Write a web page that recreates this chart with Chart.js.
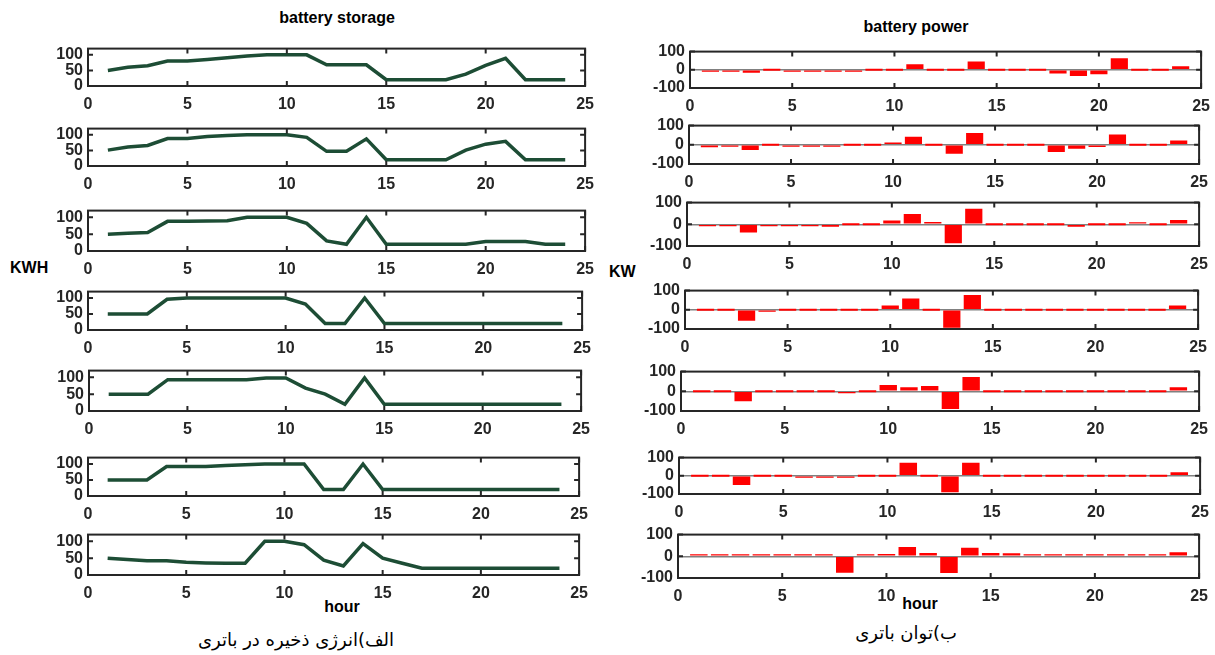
<!DOCTYPE html>
<html>
<head>
<meta charset="utf-8">
<script src="https://cdn.jsdelivr.net/npm/chart.js@4.4.1/dist/chart.umd.min.js"></script>
<style>
  body { margin: 0; background: #fff; width: 1215px; height: 655px; position: relative; overflow: hidden; font-family: "Liberation Sans", Arial, sans-serif; }
  canvas { position: absolute; }
  .t { position: absolute; font-weight: bold; font-size: 16px; color: #000; white-space: nowrap; }
  .c { transform: translateX(-50%); }
  .fa { position: absolute; font-family: "DejaVu Sans", sans-serif; font-size: 18px; color: #000; white-space: nowrap; direction: rtl; transform: translateX(-50%); }
</style>
</head>
<body>
<div class="t c" style="left:337px;top:9px">battery storage</div>
<div class="t c" style="left:916px;top:18px">battery power</div>
<div class="t" style="left:10px;top:259px">KWH</div>
<div class="t" style="left:609px;top:263px">KW</div>
<div class="t c" style="left:342px;top:598px">hour</div>
<div class="t c" style="left:920px;top:595px">hour</div>
<div class="fa" style="left:296px;top:629px">الف)انرژی ذخیره در باتری</div>
<div class="fa" style="left:906px;top:622px">ب)توان باتری</div>

<script>
// hours of the day
var hours = [1, 2, 3, 4, 5, 6, 7, 8, 9, 10, 11, 12, 13, 14, 15, 16, 17, 18, 19, 20, 21, 22, 23, 24];

// battery storage (KWH), one array per scenario
var storage1 = [50, 60, 65, 80, 80, 85, 91, 96, 100, 100, 100, 68, 68, 68, 20, 20, 20, 20, 38, 66, 89, 20, 20, 20];
var storage2 = [51, 61, 66, 88, 88, 95, 98, 100, 100, 100, 92, 47, 47, 87, 20, 20, 20, 20, 51, 70, 79, 20, 20, 20];
var storage3 = [50, 53, 55, 88, 88, 89, 90, 100, 100, 100, 82, 30, 20, 100, 20, 20, 20, 20, 20, 28, 28, 28, 20, 20];
var storage4 = [50, 50, 50, 96, 100, 100, 100, 100, 100, 100, 81, 20, 20, 100, 20, 20, 20, 20, 20, 20, 20, 20, 20, 20];
var storage5 = [50, 50, 50, 93, 93, 93, 93, 93, 98, 98, 68, 50, 20, 98, 20, 20, 20, 20, 20, 20, 20, 20, 20, 20];
var storage6 = [50, 50, 50, 92, 92, 92, 95, 98, 100, 100, 100, 20, 20, 100, 20, 20, 20, 20, 20, 20, 20, 20, 20, 20];
var storage7 = [50, 46, 42, 42, 38, 36, 35, 35, 100, 100, 90, 44, 27, 93, 50, 35, 20, 20, 20, 20, 20, 20, 20, 20];

// battery power (KW), one array per scenario
var power1 = [-10, -10, -16, 0, -6, -6, -8, -5, 0, 0, 30, 0, 0, 45, 0, 0, 0, -20, -34, -24, 64, 0, 0, 20];
var power2 = [-13, -8, -27, 0, -9, -6, -7, 0, 0, 12, 42, 0, -46, 62, 0, 0, 0, -37, -21, -12, 53, 0, 0, 23];
var power3 = [-5, -5, -38, -2, -2, -2, -11, 0, 0, 17, 48, 11, -87, 72, 0, 0, 0, 0, -11, 0, 0, 8, 0, 20];
var power4 = [0, 0, -57, -6, 0, 0, 0, 0, 0, 22, 59, 0, -93, 77, 0, 0, 0, 0, 0, 0, 0, 0, 0, 22];
var power5 = [0, 0, -50, 0, 0, 0, 0, -8, 0, 32, 20, 27, -90, 72, 0, 0, 0, 0, 0, 0, 0, 0, 0, 21];
var power6 = [0, 0, -50, 0, 0, -6, -8, -8, 0, 0, 72, 0, -90, 72, 0, 0, 0, 0, 0, 0, 0, 0, 0, 19];
var power7 = [5, 5, 2, 4, 3, 3, 1, -76, 1, 11, 43, 15, -77, 39, 15, 14, 1, 1, 1, 1, 1, 1, 1, 19];

var storageRuns = [storage1, storage2, storage3, storage4, storage5, storage6, storage7];
var powerRuns = [power1, power2, power3, power4, power5, power6, power7];

// plot boxes [left, top, right, bottom] in page pixels
var leftBoxes = [
  [88, 44, 589, 86], [88, 124, 589, 166], [88, 206, 589, 251], [88, 287, 586, 330],
  [89, 366, 585, 411], [88, 453, 583, 496], [88, 530, 583, 575]
];
var rightBoxes = [
  [690, 47, 1205, 88], [689, 121, 1203, 164], [687, 198, 1203, 246], [685, 286, 1202, 329],
  [681, 367, 1203, 411], [679, 453, 1204, 494], [678, 530, 1203, 578]
];

var AXW = 70, AXH = 34, PADT = 10, PADR = 14;
var tickFont = { family: 'Liberation Sans', size: 16, weight: 'bold' };
var tickColor = '#262626';

// box with inward ticks, like the original figure
var framePlugin = {
  id: 'frame',
  afterDatasetsDraw: function (chart) {
    var a = chart.chartArea, c = chart.ctx, x = chart.scales.x, y = chart.scales.y;
    c.save();
    c.strokeStyle = tickColor;
    c.lineWidth = 2;
    c.strokeRect(a.left, a.top, a.right - a.left, a.bottom - a.top);
    c.beginPath();
    x.ticks.forEach(function (t) {
      var px = x.getPixelForValue(t.value);
      c.moveTo(px, a.bottom); c.lineTo(px, a.bottom - 5);
      c.moveTo(px, a.top); c.lineTo(px, a.top + 5);
    });
    y.ticks.forEach(function (t) {
      var py = y.getPixelForValue(t.value);
      c.moveTo(a.left, py); c.lineTo(a.left + 5, py);
      c.moveTo(a.right, py); c.lineTo(a.right - 5, py);
    });
    c.stroke();
    c.restore();
  }
};

function makeCanvas(box) {
  var cv = document.createElement('canvas');
  cv.width = box[2] - box[0] + AXW + PADR;
  cv.height = box[3] - box[1] + PADT + AXH;
  cv.style.left = (box[0] - AXW) + 'px';
  cv.style.top = (box[1] - PADT) + 'px';
  document.body.appendChild(cv);
  return cv.getContext('2d');
}

function axes(yMin, yMax, zeroLine) {
  return {
    x: {
      type: 'linear', min: 0, max: 25, offset: false,
      ticks: { stepSize: 5, padding: 9, font: tickFont, color: tickColor, maxRotation: 0, autoSkip: false },
      grid: { display: false, drawTicks: false },
      border: { display: false },
      afterFit: function (s) { s.height = AXH; }
    },
    y: {
      min: yMin, max: yMax,
      ticks: { stepSize: (yMin < 0 ? 100 : 50), includeBounds: false, autoSkip: false, padding: 5, font: tickFont, color: tickColor },
      grid: {
        display: zeroLine, drawTicks: false, lineWidth: 1.5,
        color: function (ctx) { return ctx.tick && ctx.tick.value === 0 ? '#808080' : 'rgba(0,0,0,0)'; }
      },
      border: { display: false },
      afterFit: function (s) { s.width = AXW; }
    }
  };
}

var baseOpts = {
  responsive: false,
  animation: false,
  layout: { padding: { top: PADT, right: PADR, left: 0, bottom: 0 } },
  plugins: { legend: { display: false }, tooltip: { enabled: false } }
};

storageRuns.forEach(function (run, i) {
  new Chart(makeCanvas(leftBoxes[i]), {
    type: 'line',
    data: {
      datasets: [{
        data: hours.map(function (h, k) { return { x: h, y: run[k] }; }),
        borderColor: '#1d4d35',
        borderWidth: 3.5,
        pointRadius: 0,
        tension: 0
      }]
    },
    options: Object.assign({}, baseOpts, { scales: axes(0, 120, false) }),
    plugins: [framePlugin]
  });
});

powerRuns.forEach(function (run, i) {
  new Chart(makeCanvas(rightBoxes[i]), {
    type: 'bar',
    data: {
      datasets: [{
        data: hours.map(function (h, k) { return { x: h, y: run[k] }; }),
        backgroundColor: '#ff0000',
        borderWidth: 0,
        minBarLength: 2,
        barPercentage: 0.84,
        categoryPercentage: 1
      }]
    },
    options: Object.assign({}, baseOpts, { scales: axes(-100, 100, true) }),
    plugins: [framePlugin]
  });
});
</script>
</body>
</html>
